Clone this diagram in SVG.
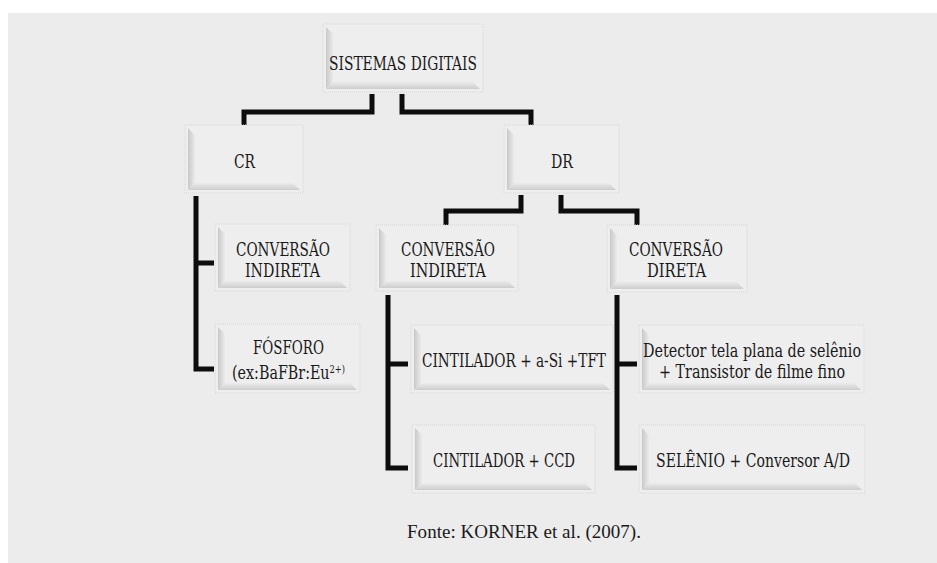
<svg xmlns="http://www.w3.org/2000/svg" width="937" height="563" viewBox="0 0 937 563">
  <defs>
    <linearGradient id="gL" x1="0" y1="0" x2="1" y2="0">
      <stop offset="0" stop-color="#c8c8c8"/>
      <stop offset="1" stop-color="#ebebeb"/>
    </linearGradient>
    <linearGradient id="gB" x1="0" y1="0" x2="0" y2="1">
      <stop offset="0" stop-color="#ebebeb"/>
      <stop offset="1" stop-color="#cdcdcd"/>
    </linearGradient>
    <style>
      .bg { fill: #ececec; }
      .frame { fill: #eeeeee; stroke: #d6d6d6; stroke-width: 1; stroke-dasharray: 1 1; }
      .bl { fill: url(#gL); }
      .bb { fill: url(#gB); }
      .lbl { font-family: "DejaVu Serif", "Liberation Serif", serif; font-size: 19px; fill: #1a1a1a; text-anchor: middle; }
      .src { font-family: "Liberation Serif", serif; font-size: 19px; fill: #1a1a1a; text-anchor: middle; }
      .wire { fill: none; stroke: #0d0d0d; stroke-width: 5; stroke-linejoin: miter; stroke-linecap: butt; }
    </style>
  </defs>

  <!-- page background -->
  <rect x="0" y="0" width="937" height="563" fill="#ffffff"/>
  <rect class="bg" x="8" y="13" width="929" height="550"/>

  <!-- connectors -->
  <g id="connectors">
    <path class="wire" d="M372,94 V112 H244 V125"/>
    <path class="wire" d="M402,94 V112 H531 V125"/>
    <path class="wire" d="M196,196 V369 H214"/>
    <path class="wire" d="M196,263 H214"/>
    <path class="wire" d="M521,195 V211 H446 V225"/>
    <path class="wire" d="M561,195 V211 H637 V225"/>
    <path class="wire" d="M388,295 V468 H408"/>
    <path class="wire" d="M388,364 H408"/>
    <path class="wire" d="M617,295 V468 H637"/>
    <path class="wire" d="M617,364 H637"/>
  </g>

  <!-- nodes -->
  <g id="sistemas-digitais">
    <rect class="frame" x="323" y="24" width="160" height="68"/>
    <polygon class="bl" points="326,27 333,34 333,82 326,89"/>
    <polygon class="bb" points="326,89 333,82 473,82 480,89"/>
    <text class="lbl" x="403" y="70" textLength="148" lengthAdjust="spacingAndGlyphs">SISTEMAS DIGITAIS</text>
  </g>

  <g id="cr">
    <rect class="frame" x="185" y="125" width="118" height="68"/>
    <polygon class="bl" points="188,128 195,135 195,183 188,190"/>
    <polygon class="bb" points="188,190 195,183 293,183 300,190"/>
    <text class="lbl" x="244.5" y="168" textLength="21" lengthAdjust="spacingAndGlyphs">CR</text>
  </g>

  <g id="dr">
    <rect class="frame" x="504" y="125" width="115" height="68"/>
    <polygon class="bl" points="507,128 514,135 514,183 507,190"/>
    <polygon class="bb" points="507,190 514,183 609,183 616,190"/>
    <text class="lbl" x="562" y="168" textLength="22" lengthAdjust="spacingAndGlyphs">DR</text>
  </g>

  <g id="cr-conversao-indireta">
    <rect class="frame" x="215" y="224" width="135" height="67"/>
    <polygon class="bl" points="218,227 225,234 225,281 218,288"/>
    <polygon class="bb" points="218,288 225,281 340,281 347,288"/>
    <text class="lbl" x="283" y="256" textLength="94" lengthAdjust="spacingAndGlyphs">CONVERSÃO</text>
    <text class="lbl" x="282.5" y="277" textLength="75" lengthAdjust="spacingAndGlyphs">INDIRETA</text>
  </g>

  <g id="cr-fosforo">
    <rect class="frame" x="215" y="324" width="145" height="69"/>
    <polygon class="bl" points="218,327 225,334 225,383 218,390"/>
    <polygon class="bb" points="218,390 225,383 350,383 357,390"/>
    <text class="lbl" x="288.5" y="354" textLength="71" lengthAdjust="spacingAndGlyphs">FÓSFORO</text>
    <text class="lbl" x="288.5" y="379" textLength="113" lengthAdjust="spacingAndGlyphs">(ex:BaFBr:Eu<tspan dy="-6" font-size="11">2+)</tspan></text>
  </g>

  <g id="dr-conversao-indireta">
    <rect class="frame" x="376" y="225" width="142" height="66"/>
    <polygon class="bl" points="379,228 386,235 386,281 379,288"/>
    <polygon class="bb" points="379,288 386,281 508,281 515,288"/>
    <text class="lbl" x="448" y="256" textLength="94" lengthAdjust="spacingAndGlyphs">CONVERSÃO</text>
    <text class="lbl" x="448" y="277" textLength="76" lengthAdjust="spacingAndGlyphs">INDIRETA</text>
  </g>

  <g id="dr-conversao-direta">
    <rect class="frame" x="607" y="225" width="140" height="67"/>
    <polygon class="bl" points="610,228 617,235 617,282 610,289"/>
    <polygon class="bb" points="610,289 617,282 737,282 744,289"/>
    <text class="lbl" x="676" y="256" textLength="94" lengthAdjust="spacingAndGlyphs">CONVERSÃO</text>
    <text class="lbl" x="676.5" y="277" textLength="59" lengthAdjust="spacingAndGlyphs">DIRETA</text>
  </g>

  <g id="cintilador-asi-tft">
    <rect class="frame" x="411" y="325" width="202" height="68"/>
    <polygon class="bl" points="414,328 421,335 421,383 414,390"/>
    <polygon class="bb" points="414,390 421,383 603,383 610,390"/>
    <text class="lbl" x="514" y="367" textLength="184" lengthAdjust="spacingAndGlyphs">CINTILADOR + a-Si +TFT</text>
  </g>

  <g id="cintilador-ccd">
    <rect class="frame" x="412" y="425" width="183" height="68"/>
    <polygon class="bl" points="415,428 422,435 422,483 415,490"/>
    <polygon class="bb" points="415,490 422,483 585,483 592,490"/>
    <text class="lbl" x="504" y="467" textLength="142" lengthAdjust="spacingAndGlyphs">CINTILADOR + CCD</text>
  </g>

  <g id="detector-selenio">
    <rect class="frame" x="639" y="325" width="225" height="68"/>
    <polygon class="bl" points="642,328 649,335 649,383 642,390"/>
    <polygon class="bb" points="642,390 649,383 854,383 861,390"/>
    <text class="lbl" x="752" y="357" textLength="218" lengthAdjust="spacingAndGlyphs">Detector tela plana de selênio</text>
    <text class="lbl" x="752" y="378" textLength="186" lengthAdjust="spacingAndGlyphs">+ Transistor de filme fino</text>
  </g>

  <g id="selenio-conversor">
    <rect class="frame" x="639" y="425" width="226" height="68"/>
    <polygon class="bl" points="642,428 649,435 649,483 642,490"/>
    <polygon class="bb" points="642,490 649,483 855,483 862,490"/>
    <text class="lbl" x="753" y="467" textLength="194" lengthAdjust="spacingAndGlyphs">SELÊNIO + Conversor A/D</text>
  </g>

  <!-- source line -->
  <text class="src" x="524" y="538" textLength="234" lengthAdjust="spacingAndGlyphs">Fonte: KORNER et al. (2007).</text>
</svg>
